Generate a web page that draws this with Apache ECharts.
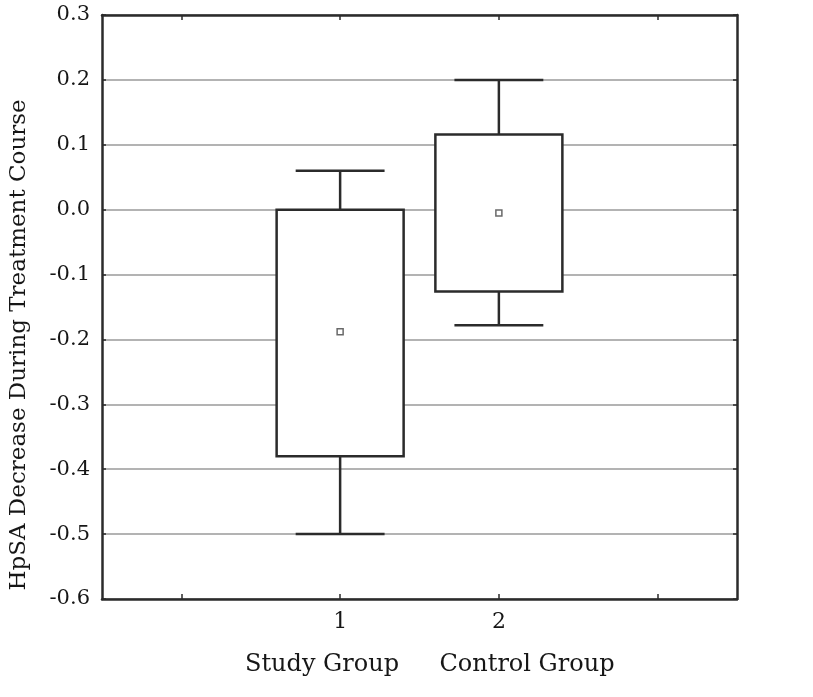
<!DOCTYPE html>
<html>
<head>
<meta charset="utf-8">
<script src="https://cdn.jsdelivr.net/npm/echarts@6/dist/echarts.min.js"></script>
<style>
  html, body { margin: 0; padding: 0; background: #fff; }
  #chart { width: 813px; height: 697px; }
</style>
</head>
<body>
<div id="chart"></div>
<script>
// axis slots: empty slot on each side so ticks fall as in the original
const xSlots = ["", "1", "2", ""];
const groupNames = ["Study Group", "Control Group"];
const groupSlot = [1, 2];

// box/whisker values per group
const whiskerLow = [-0.5, -0.178];
const boxLow = [-0.38, -0.126];
const boxHigh = [0.0, 0.116];
const whiskerHigh = [0.06, 0.2];
const means = [-0.188, -0.005];

const yMin = -0.6;
const yMax = 0.3;
const yStep = 0.1;

const FONT = "DejaVu Serif";
const INK = "#2b2b2b";
const TEXT = "#161616";

const chart = echarts.init(document.getElementById("chart"));

const boxData = groupSlot.map((s, i) => [s, whiskerLow[i], boxLow[i], boxHigh[i], whiskerHigh[i]]);
const meanData = groupSlot.map((s, i) => [s, means[i]]);

function renderBox(params, api) {
  const x = api.value(0);
  const band = api.size([1, 0])[0];
  const half = band * 0.4;
  const capHalf = band * 0.28;
  const wl = api.coord([x, api.value(1)]);
  const bl = api.coord([x, api.value(2)]);
  const bh = api.coord([x, api.value(3)]);
  const wh = api.coord([x, api.value(4)]);
  const cx = wl[0];
  const line = { stroke: INK, lineWidth: 2.5, fill: null };
  return {
    type: "group",
    children: [
      { type: "line", shape: { x1: cx, y1: wh[1], x2: cx, y2: bh[1] }, style: line },
      { type: "line", shape: { x1: cx, y1: bl[1], x2: cx, y2: wl[1] }, style: line },
      { type: "line", shape: { x1: cx - capHalf, y1: wh[1], x2: cx + capHalf, y2: wh[1] }, style: line },
      { type: "line", shape: { x1: cx - capHalf, y1: wl[1], x2: cx + capHalf, y2: wl[1] }, style: line },
      {
        type: "rect",
        shape: { x: cx - half, y: bh[1], width: half * 2, height: bl[1] - bh[1] },
        style: { stroke: INK, lineWidth: 2.5, fill: "#fff" }
      }
    ]
  };
}

const frameLine = { show: true, onZero: false, lineStyle: { color: INK, width: 2.5 } };

chart.setOption({
  animation: false,
  backgroundColor: "#fff",
  grid: { left: 102, right: 76, top: 15, bottom: 98 },
  xAxis: [
    {
      type: "category",
      data: xSlots,
      position: "bottom",
      axisLine: frameLine,
      axisTick: { show: true, inside: true, alignWithLabel: true, length: 5, lineStyle: { color: INK, width: 1.5 } },
      axisLabel: { color: TEXT, fontFamily: FONT, fontSize: 22, margin: 12, interval: 0 },
      splitLine: { show: false }
    },
    {
      type: "category",
      data: xSlots,
      position: "top",
      axisLine: frameLine,
      axisTick: { show: true, inside: true, alignWithLabel: true, length: 5, lineStyle: { color: INK, width: 1.5 } },
      axisLabel: { show: false },
      splitLine: { show: false }
    }
  ],
  yAxis: [
    {
      type: "value",
      min: yMin,
      max: yMax,
      interval: yStep,
      position: "left",
      axisLine: frameLine,
      axisTick: { show: true, inside: true, length: 4, lineStyle: { color: INK, width: 1.5 } },
      axisLabel: {
        color: TEXT,
        fontFamily: FONT,
        fontSize: 21,
        margin: 12,
        formatter: (v) => (Math.round(v * 10) / 10).toFixed(1)
      },
      splitLine: { show: true, lineStyle: { color: "#9a9a9a", width: 1.5 } }
    },
    {
      type: "value",
      min: yMin,
      max: yMax,
      interval: yStep,
      position: "right",
      axisLine: frameLine,
      axisTick: { show: true, inside: true, length: 4, lineStyle: { color: INK, width: 1.5 } },
      axisLabel: { show: false },
      splitLine: { show: false }
    }
  ],
  graphic: [
    {
      type: "text",
      x: 19,
      y: 345,
      rotation: Math.PI / 2,
      style: {
        text: "HpSA Decrease During Treatment Course",
        font: "23px " + FONT,
        fill: TEXT,
        textAlign: "center",
        textVerticalAlign: "middle"
      }
    },
    {
      type: "text",
      x: 322,
      y: 665,
      style: { text: groupNames[0], font: "24px " + FONT, fill: TEXT, textAlign: "center", textVerticalAlign: "middle" }
    },
    {
      type: "text",
      x: 527,
      y: 665,
      style: { text: groupNames[1], font: "24px " + FONT, fill: TEXT, textAlign: "center", textVerticalAlign: "middle" }
    }
  ],
  series: [
    {
      type: "custom",
      renderItem: renderBox,
      data: boxData,
      encode: { x: 0, y: [1, 2, 3, 4] },
      z: 3
    },
    {
      type: "scatter",
      data: meanData,
      symbol: "rect",
      symbolSize: 6,
      itemStyle: { color: "#fff", borderColor: "#444", borderWidth: 1.5 },
      z: 5
    }
  ]
});
</script>
</body>
</html>
